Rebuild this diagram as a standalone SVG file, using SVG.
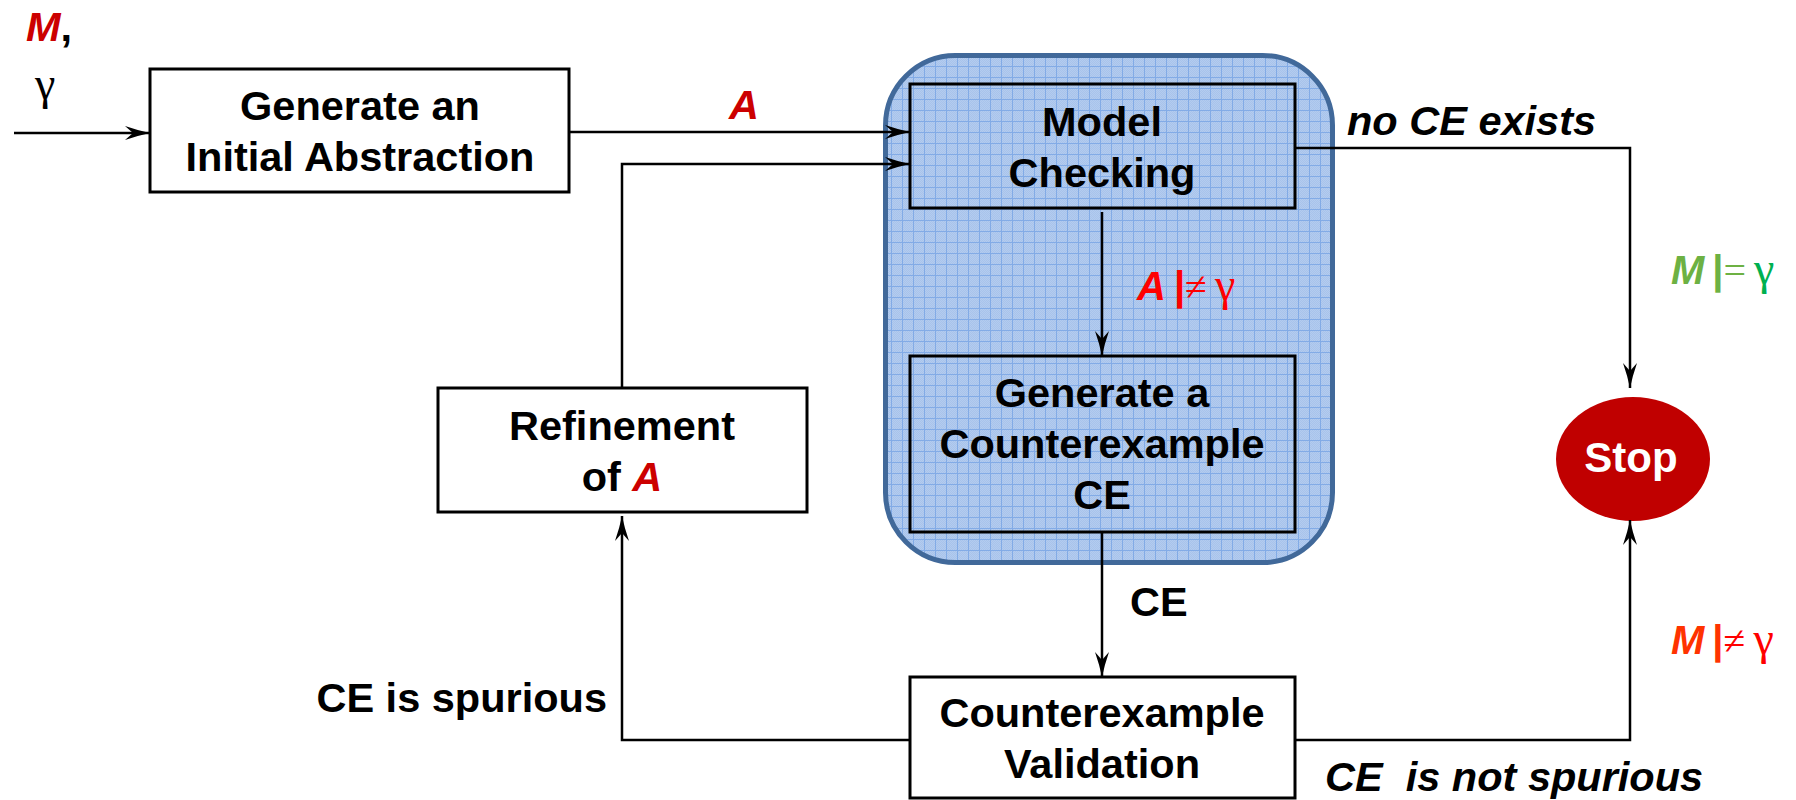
<svg xmlns="http://www.w3.org/2000/svg" width="1796" height="800" viewBox="0 0 1796 800">
  <style>
    .box { fill: #FFFFFF; stroke: #000000; stroke-width: 3; }
    .inner { fill: none; stroke: #000000; stroke-width: 3; }
    .t { font-family: "Liberation Sans", Arial, sans-serif; font-weight: bold; font-size: 41.5px; fill: #000000; }
    .mid { text-anchor: middle; }
    .end { text-anchor: end; }
    .it { font-style: italic; }
    .serif { font-family: "Liberation Serif", "Times New Roman", serif; font-weight: normal; font-style: normal; }
    .gam { font-size: 46px; }
    .bar { font-family: "Liberation Sans", Arial, sans-serif; font-weight: bold; font-style: normal; }
    .dark { fill: #CC0000; }
    .white { fill: #FFFFFF; }
    .red { fill: #FF0000; }
    .orange { fill: #FF3300; }
    .lgreen { fill: #6DB143; }
    .green { fill: #00B050; }
    .conn { fill: none; stroke: #000000; stroke-width: 2.5; }
  </style>
  <defs>
    <marker id="arrow" markerUnits="userSpaceOnUse" viewBox="-27 -9 29 18" refX="0" refY="0" markerWidth="29" markerHeight="18" orient="auto">
      <path d="M0,0 Q-12,-2.5 -25,-7 L-17,0 L-25,7 Q-12,2.5 0,0 Z" fill="#000000"/>
    </marker>
    <pattern id="fine" width="2" height="2" patternUnits="userSpaceOnUse">
      <rect width="2" height="2" fill="#B3CCEF"/>
      <rect width="1" height="1" fill="#A8C3EB"/>
      <rect x="1" y="1" width="1" height="1" fill="#A8C3EB"/>
    </pattern>
    <pattern id="grid" width="11" height="11" patternUnits="userSpaceOnUse">
      <rect width="11" height="11" fill="url(#fine)"/>
      <path d="M0 0.5 H11 M0.5 0 V11" stroke="#82ABE6" stroke-width="1"/>
    </pattern>
  </defs>

  <!-- inputs -->
  <g id="inputs">
    <text class="t it" x="26" y="41"><tspan class="dark">M</tspan><tspan style="font-style:normal">,</tspan></text>
    <text class="t serif gam" x="35" y="99">γ</text>
  </g>

  <!-- shaded region grouping model checking and counterexample generation -->
  <g id="cegar-core">
    <rect x="885.5" y="55.5" width="447" height="507" rx="70" ry="70" fill="url(#grid)" stroke="#41699A" stroke-width="5"/>
  </g>

  <g id="generate-abstraction">
    <rect class="box" x="150" y="69" width="419" height="123"/>
    <text class="t mid" x="360" y="120">Generate an</text>
    <text class="t mid" x="360" y="171">Initial Abstraction</text>
  </g>

  <g id="model-checking">
    <rect class="inner" x="910" y="84" width="385" height="124"/>
    <text class="t mid" x="1102" y="136">Model</text>
    <text class="t mid" x="1102" y="187">Checking</text>
  </g>

  <g id="generate-ce">
    <rect class="inner" x="910" y="356" width="385" height="176"/>
    <text class="t mid" x="1102" y="407">Generate a</text>
    <text class="t mid" x="1102" y="458">Counterexample</text>
    <text class="t mid" x="1102" y="509">CE</text>
  </g>

  <g id="refinement">
    <rect class="box" x="438" y="388" width="369" height="124"/>
    <text class="t mid" x="622" y="440">Refinement</text>
    <text class="t mid" x="622" y="491">of <tspan class="it dark">A</tspan></text>
  </g>

  <g id="ce-validation">
    <rect class="box" x="910" y="677" width="385" height="121"/>
    <text class="t mid" x="1102" y="727">Counterexample</text>
    <text class="t mid" x="1102" y="778">Validation</text>
  </g>

  <g id="stop">
    <ellipse cx="1633" cy="459" rx="77" ry="62" fill="#C00000"/>
    <text class="t mid white" x="1631" y="472" style="font-size:42px">Stop</text>
  </g>

  <!-- connectors -->
  <g id="connectors">
    <path class="conn" d="M14,133 H150" marker-end="url(#arrow)"/>
    <path class="conn" d="M569,132 H910" marker-end="url(#arrow)"/>
    <path class="conn" d="M622,388 V164 H910" marker-end="url(#arrow)"/>
    <path class="conn" d="M1102,212 V356" marker-end="url(#arrow)"/>
    <path class="conn" d="M1102,532 V677" marker-end="url(#arrow)"/>
    <path class="conn" d="M910,740 H622 V516" marker-end="url(#arrow)"/>
    <path class="conn" d="M1295,740 H1630 V520" marker-end="url(#arrow)"/>
    <path class="conn" d="M1295,148 H1630 V388" marker-end="url(#arrow)"/>
  </g>

  <!-- connector labels -->
  <g id="labels">
    <text class="t it dark mid" x="744" y="119">A</text>
    <text class="t red" x="1137" y="300" style="font-size:40px"><tspan class="it">A</tspan><tspan class="bar" dx="8">|</tspan><tspan class="serif">≠</tspan><tspan class="serif gam" dx="8">γ</tspan></text>
    <text class="t it" x="1347" y="135">no CE exists</text>
    <text class="t" x="1671" y="284" style="font-size:40px"><tspan class="it lgreen">M</tspan><tspan class="bar lgreen" dx="8">|</tspan><tspan class="serif lgreen">=</tspan><tspan class="serif gam green" dx="8">γ</tspan></text>
    <text class="t" x="1130" y="616">CE</text>
    <text class="t end" x="607" y="712">CE is spurious</text>
    <text class="t" x="1671" y="654" style="font-size:40px"><tspan class="it orange">M</tspan><tspan class="bar orange" dx="8">|</tspan><tspan class="serif red">≠</tspan><tspan class="serif gam red" dx="8">γ</tspan></text>
    <text class="t it" x="1325" y="791">CE&#160; is not spurious</text>
  </g>
</svg>
